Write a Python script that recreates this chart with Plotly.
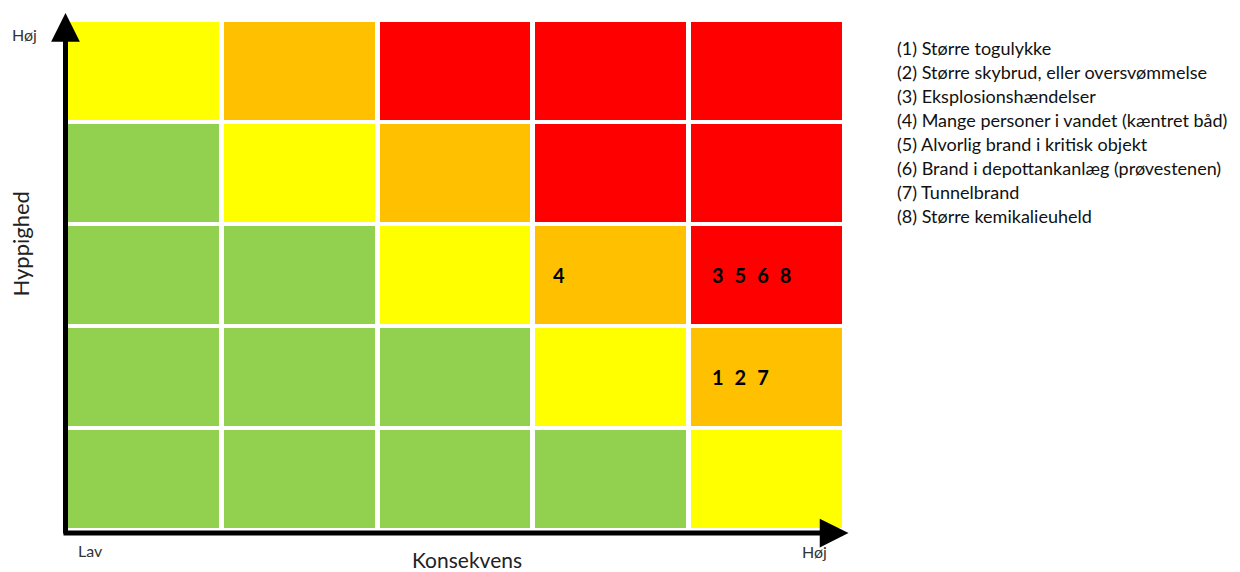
import plotly.graph_objects as go

# Risk matrix: rows = Hyppighed (frequency) from low (bottom) to high (top),
# columns = Konsekvens (consequence) from low (left) to high (right).
# 0 = green, 1 = yellow, 2 = orange, 3 = red
consequence_levels = [1, 2, 3, 4, 5]
frequency_levels = [1, 2, 3, 4, 5]
risk_levels = [
    [0, 0, 0, 0, 1],  # frequency 1 (bottom)
    [0, 0, 0, 1, 2],  # frequency 2
    [0, 0, 1, 2, 3],  # frequency 3
    [0, 1, 2, 3, 3],  # frequency 4
    [1, 2, 3, 3, 3],  # frequency 5 (top)
]
level_colors = ["#92D050", "#FFFF00", "#FFC000", "#FF0000"]

# Events placed in the matrix
event_consequence = [4, 5, 5]
event_frequency = [3, 3, 2]
event_ids = [["4"], ["3", "5", "6", "8"], ["1", "2", "7"]]

legend_items = [
    "(1) Større togulykke",
    "(2) Større skybrud, eller oversvømmelse",
    "(3) Eksplosionshændelser",
    "(4) Mange personer i vandet (kæntret båd)",
    "(5) Alvorlig brand i kritisk objekt",
    "(6) Brand i depottankanlæg (prøvestenen)",
    "(7) Tunnelbrand",
    "(8) Større kemikalieuheld",
]

x_title = "Konsekvens"
y_title = "Hyppighed"
low_label = "Lav"
high_label = "Høj"

# page body has an 8px margin; compensate
OFF = 8
W, H = 1240 - OFF, 572 - OFF
PL, PR, PT, PB = 65.5, 845.5, 20, 530  # plot area in page pixels
ML, MR, MT, MB = PL - OFF, W - (PR - OFF), PT - OFF, H - (PB - OFF)

n = len(level_colors) - 1
colorscale = [[i / n, c] for i, c in enumerate(level_colors)]

fig = go.Figure(
    go.Heatmap(
        x=consequence_levels,
        y=frequency_levels,
        z=risk_levels,
        zmin=0,
        zmax=n,
        colorscale=colorscale,
        showscale=False,
        xgap=5,
        ygap=4,
        hoverinfo="skip",
    )
)

FONT = "Lato, Open Sans, sans-serif"
annotations = []

# event numbers in cells
sep = "\u00a0\u00a0\u200a"
for cx, fy, ids in zip(event_consequence, event_frequency, event_ids):
    annotations.append(dict(
        x=cx - 0.385 + 0.02 * (cx - 4), y=fy, xref="x", yref="y",
        text="<b>" + sep.join(ids) + "</b>",
        showarrow=False, xanchor="left", yanchor="middle",
        font=dict(family=FONT, size=20, color="#000000"),
    ))

pw, ph = PR - PL, PB - PT
def px_to_paper_x(px):
    return (px - PL) / pw
def px_to_paper_y(py):
    return (PB - py) / ph

# axis arrows
annotations.append(dict(
    x=px_to_paper_x(65), y=px_to_paper_y(13), xref="paper", yref="paper",
    ax=0, ay=535 - 13, showarrow=True, arrowhead=2, arrowsize=1.15, arrowwidth=5,
    arrowcolor="#000000", text="",
))
annotations.append(dict(
    x=px_to_paper_x(849), y=px_to_paper_y(533), xref="paper", yref="paper",
    ax=-(849 - 62.5), ay=0, showarrow=True, arrowhead=2, arrowsize=1.15, arrowwidth=5,
    arrowcolor="#000000", text="",
))

# axis end labels
lab_font = dict(family=FONT, size=16, color="#333333")
def label(px, py, text, font, angle=0):
    return dict(x=px_to_paper_x(px), y=px_to_paper_y(py), xref="paper", yref="paper",
                text=text, showarrow=False, font=font, textangle=angle,
                xanchor="center", yanchor="middle")

annotations += [
    label(24, 34, high_label, lab_font),
    label(90, 550, low_label, lab_font),
    label(815, 551, high_label, lab_font),
    label(467, 559, x_title, dict(family=FONT, size=21, color="#222222")),
    label(19, 244, y_title, dict(family=FONT, size=22, color="#222222"), angle=-90),
]

# legend text
for i, item in enumerate(legend_items):
    annotations.append(dict(
        x=px_to_paper_x(896), y=px_to_paper_y(48 + 24 * i), xref="paper", yref="paper",
        text=item, showarrow=False, xanchor="left", yanchor="middle",
        font=dict(family=FONT, size=18, color="#111111"),
    ))

fig.update_layout(
    width=W, height=H,
    margin=dict(l=ML, r=MR, t=MT, b=MB, pad=0),
    paper_bgcolor="white", plot_bgcolor="white",
    xaxis=dict(visible=False, range=[0.5, 5.5], fixedrange=True),
    yaxis=dict(visible=False, range=[0.5, 5.5], fixedrange=True),
    annotations=annotations,
    showlegend=False,
)

fig.write_html("out.html", config={"displayModeBar": False})
